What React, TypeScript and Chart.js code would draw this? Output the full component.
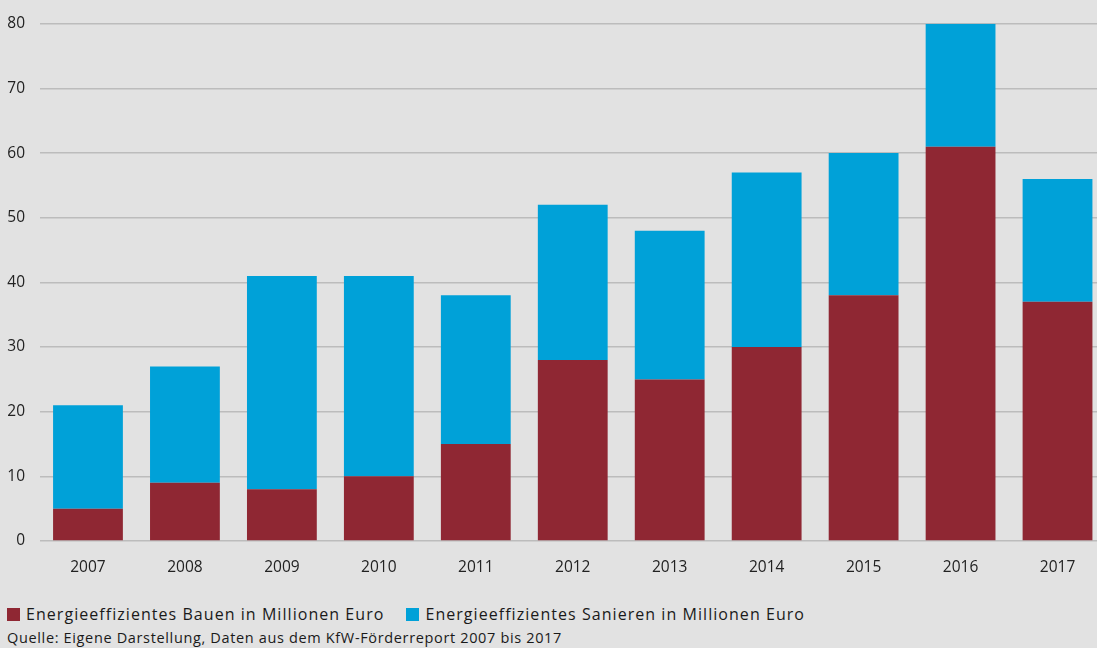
import React, { useEffect, useRef } from "react";
import { Chart, registerables } from "chart.js";

Chart.register(...registerables);

const years = ["2007", "2008", "2009", "2010", "2011", "2012", "2013", "2014", "2015", "2016", "2017"];
const bauen = [5, 9, 8, 10, 15, 28, 25, 30, 38, 61, 37];
const sanieren = [16, 18, 33, 31, 23, 24, 23, 27, 22, 19, 19];
const yTicks = [0, 10, 20, 30, 40, 50, 60, 70, 80];
const seriesLabels = [
  "Energieeffizientes Bauen in Millionen Euro",
  "Energieeffizientes Sanieren in Millionen Euro",
];
const sourceText = "Quelle: Eigene Darstellung, Daten aus dem KfW-Förderreport 2007 bis 2017";

const RED = "#8f2733";
const BLUE = "#00a1d8";
const BG = "#e2e2e2";
const FONT = "'Open Sans', sans-serif";

export default function App() {
  const ref = useRef<HTMLCanvasElement | null>(null);

  useEffect(() => {
    if (!ref.current) return;
    const chart = new Chart(ref.current, {
      type: "bar",
      data: {
        labels: years,
        datasets: [
          { label: seriesLabels[0], data: bauen, backgroundColor: RED, barPercentage: 0.72, categoryPercentage: 1 },
          { label: seriesLabels[1], data: sanieren, backgroundColor: BLUE, barPercentage: 0.72, categoryPercentage: 1 },
        ],
      },
      options: {
        animation: false,
        responsive: false,
        maintainAspectRatio: false,
        layout: { padding: { top: 20.5, right: 0, bottom: 0, left: 0 } },
        plugins: { legend: { display: false }, tooltip: { enabled: false } },
        scales: {
          x: {
            stacked: true,
            grid: { display: false, drawTicks: false },
            border: { display: false },
            ticks: { color: "#222", font: { family: FONT, size: 15.5 }, padding: 17, maxRotation: 0 },
            afterFit: (s: any) => { s.height = 44; },
          },
          y: {
            stacked: true,
            min: 0,
            max: 80,
            afterBuildTicks: (s: any) => { s.ticks = yTicks.map((v) => ({ value: v })); },
            grid: { color: "#bcbcbc", lineWidth: 1.5, drawTicks: false },
            border: { display: false },
            ticks: { color: "#222", font: { family: FONT, size: 15.5 }, padding: 14.5 },
            afterFit: (s: any) => { s.width = 39.5; },
          },
        },
      },
    });
    return () => chart.destroy();
  }, []);

  return (
    <div style={{ position: "fixed", left: 0, top: 0, width: 1097, height: 648, overflow: "hidden", background: BG, fontFamily: FONT, color: "#1a1a1a" }}>
      <div style={{ position: "absolute", left: 0, top: 0, width: 1106, height: 585 }}>
        <canvas ref={ref} width={1106} height={585} style={{ display: "block" }} />
      </div>
      <div style={{ position: "absolute", left: 7, top: 602, display: "flex", alignItems: "center", fontSize: 16, letterSpacing: "1.05px", lineHeight: "24px", whiteSpace: "nowrap" }}>
        <span style={{ display: "inline-block", width: 13, height: 13, background: RED, marginRight: 6 }} />
        <span>{seriesLabels[0]}</span>
        <span style={{ display: "inline-block", width: 13, height: 13, background: BLUE, marginLeft: 22, marginRight: 6 }} />
        <span>{seriesLabels[1]}</span>
      </div>
      <div style={{ position: "absolute", left: 7, top: 628, fontSize: 14.5, letterSpacing: "0.65px", lineHeight: "20px", whiteSpace: "nowrap" }}>
        {sourceText}
      </div>
    </div>
  );
}
